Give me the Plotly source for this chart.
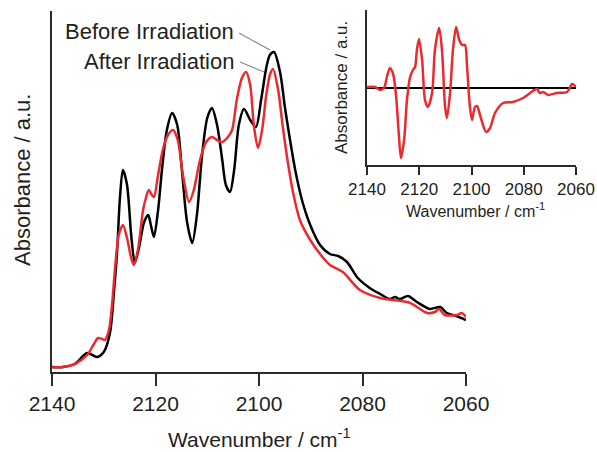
import plotly.graph_objects as go

# Main spectra (wavenumber / cm-1, absorbance a.u.)
wn_before = [2140.0, 2137.9, 2135.6, 2133.2, 2131.3, 2130.0, 2128.8, 2128.0, 2127.4, 2126.9,
             2126.3, 2125.5, 2124.7, 2124.0, 2123.2, 2122.2, 2121.4, 2120.9, 2120.3, 2119.5,
             2118.7, 2117.8, 2116.8, 2115.8, 2114.9, 2113.9, 2112.9, 2112.0, 2111.0, 2110.0,
             2109.1, 2108.1, 2107.1, 2106.4, 2105.6, 2104.8, 2103.9, 2102.9, 2101.7, 2100.6,
             2099.6, 2098.6, 2097.9, 2097.1, 2095.9, 2095.0, 2094.0, 2093.0, 2091.7, 2090.1,
             2088.2, 2086.3, 2084.7, 2083.0, 2080.9, 2078.6, 2076.6, 2074.7, 2073.7, 2072.8,
             2071.2, 2069.5, 2067.0, 2065.0, 2063.7, 2061.9, 2060.0]
abs_before = [0.05, 0.05, 0.08, 0.19, 0.15, 0.20, 0.39, 0.82, 1.22, 1.72,
              2.02, 1.87, 1.37, 1.09, 1.24, 1.50, 1.57, 1.47, 1.35, 1.62,
              2.05, 2.42, 2.59, 2.47, 2.02, 1.50, 1.29, 1.57, 2.17, 2.54,
              2.64, 2.47, 2.12, 1.87, 1.80, 2.02, 2.47, 2.63, 2.52, 2.45,
              2.72, 3.04, 3.17, 3.20, 2.99, 2.65, 2.32, 2.02, 1.72, 1.47,
              1.27, 1.18, 1.16, 1.10, 0.94, 0.84, 0.78, 0.73, 0.75, 0.73,
              0.76, 0.70, 0.63, 0.65, 0.59, 0.56, 0.52]

wn_after = [2140.0, 2137.9, 2135.6, 2133.2, 2131.9, 2131.1, 2130.3, 2129.8, 2129.0, 2128.4,
            2127.8, 2127.1, 2126.3, 2125.5, 2124.7, 2124.2, 2123.4, 2122.4, 2121.8, 2121.3,
            2120.7, 2120.3, 2119.5, 2118.6, 2117.6, 2116.6, 2115.7, 2114.7, 2113.5, 2112.6,
            2111.4, 2110.2, 2109.1, 2108.1, 2107.1, 2106.0, 2105.2, 2104.3, 2103.3, 2102.5,
            2101.7, 2101.0, 2100.2, 2099.4, 2098.6, 2097.9, 2097.3, 2096.3, 2095.4, 2094.4,
            2093.4, 2092.1, 2090.1, 2088.2, 2086.3, 2083.8, 2080.5, 2076.6, 2074.1, 2070.8,
            2067.5, 2066.0, 2065.2, 2064.1, 2061.7, 2060.8, 2060.0]
abs_after = [0.05, 0.05, 0.08, 0.17, 0.28, 0.34, 0.33, 0.32, 0.42, 0.67,
             1.05, 1.37, 1.47, 1.34, 1.14, 1.07, 1.22, 1.62, 1.75, 1.82,
             1.77, 1.75, 1.97, 2.22, 2.37, 2.42, 2.32, 1.97, 1.70, 1.82,
             2.12, 2.30, 2.35, 2.32, 2.30, 2.35, 2.42, 2.72, 2.94, 3.00,
             2.87, 2.47, 2.24, 2.42, 2.77, 2.97, 3.03, 2.82, 2.45, 2.09,
             1.79, 1.52, 1.32, 1.18, 1.07, 1.00, 0.82, 0.74, 0.72, 0.69,
             0.59, 0.60, 0.63, 0.57, 0.57, 0.59, 0.55]

# Inset difference spectrum
wn_diff = [2140.0, 2136.9, 2135.0, 2133.5, 2132.3, 2131.2, 2130.0, 2128.9, 2127.8, 2127.0,
           2125.8, 2124.7, 2123.5, 2122.4, 2121.6, 2120.9, 2120.1, 2118.9, 2117.8, 2116.7,
           2115.1, 2114.0, 2112.4, 2111.3, 2110.1, 2109.4, 2108.2, 2107.1, 2105.9, 2104.8,
           2103.6, 2102.5, 2101.7, 2100.6, 2099.8, 2098.7, 2097.9, 2096.4, 2094.4, 2092.9,
           2091.0, 2087.9, 2084.1, 2080.3, 2076.5, 2074.9, 2073.8, 2072.6, 2070.7, 2067.3,
           2063.4, 2061.5, 2060.0]
abs_diff = [1, 1, -2, 0, 12, 20, 14, -7, -47, -70,
            -52, -12, 11, 18, 21, 38, 49, 28, -12, -19,
            -5, 38, 60, 38, -19, -30, -5, 38, 61, 49,
            43, 43, 21, -19, -32, -19, -18, -30, -44, -40,
            -25, -15, -14, -10, -3, -1, -5, -4, -7, -5,
            -4, 4, 1]

tick_vals = [2140, 2120, 2100, 2080, 2060]
tick_text = ["2140", "2120", "2100", "2080", "2060"]

FONT = "Liberation Sans, Arial, Helvetica, sans-serif"
TXT = "#231f20"
RED = "#ec2a2e"
AX = "#2b2b2b"

fig = go.Figure()
fig.add_trace(go.Scatter(x=wn_before, y=abs_before, mode="lines",
                         line=dict(color="black", width=2.5, shape="spline", smoothing=0.8),
                         xaxis="x", yaxis="y", showlegend=False))
fig.add_trace(go.Scatter(x=wn_after, y=abs_after, mode="lines",
                         line=dict(color=RED, width=2.5, shape="spline", smoothing=0.8),
                         xaxis="x", yaxis="y", showlegend=False))
fig.add_trace(go.Scatter(x=wn_diff, y=abs_diff, mode="lines",
                         line=dict(color=RED, width=2.5, shape="spline", smoothing=0.8),
                         xaxis="x2", yaxis="y2", showlegend=False))

fig.update_layout(
    width=597, height=452,
    margin=dict(l=0, r=0, t=0, b=0, autoexpand=False),
    paper_bgcolor="white", plot_bgcolor="rgba(0,0,0,0)",
    font=dict(family=FONT, color=TXT),
    xaxis=dict(domain=[52/597, 466/597], range=[2140, 2060], autorange=False,
               showgrid=False, zeroline=False, showline=True, linecolor=AX, linewidth=2,
               ticks="outside", ticklen=12, tickwidth=2, tickcolor=AX,
               tickvals=tick_vals, ticktext=tick_text, automargin=False,
               tickfont=dict(size=21, family=FONT, color=TXT), anchor="y"),
    yaxis=dict(domain=[(452-372)/452, (452-11)/452], range=[0, 3.61], autorange=False,
               showgrid=False, zeroline=False, showline=True, linecolor=AX, linewidth=2,
               showticklabels=False, ticks="", anchor="x", automargin=False),
    xaxis2=dict(domain=[367/597, 576/597], range=[2140, 2060], autorange=False,
                showgrid=False, zeroline=False, showline=True, linecolor=AX, linewidth=2,
                ticks="outside", ticklen=8, tickwidth=2, tickcolor=AX,
                tickvals=tick_vals, ticktext=tick_text, automargin=False,
                tickfont=dict(size=17, family=FONT, color=TXT), anchor="y2"),
    yaxis2=dict(domain=[(452-165)/452, (452-10)/452], range=[-77, 78], autorange=False,
                showgrid=False, zeroline=True, zerolinecolor="black", zerolinewidth=2,
                showline=True, linecolor=AX, linewidth=2, automargin=False,
                showticklabels=False, ticks="", anchor="x2"),
    annotations=[
        dict(text="Wavenumber / cm<sup>-1</sup>", x=259/597, y=(452-438)/452,
             xref="paper", yref="paper", showarrow=False, xanchor="center", yanchor="middle",
             font=dict(size=21, family=FONT, color=TXT)),
        dict(text="Absorbance / a.u.", x=23/597, y=(452-180)/452, textangle=-90,
             xref="paper", yref="paper", showarrow=False, xanchor="center", yanchor="middle",
             font=dict(size=22, family=FONT, color=TXT)),
        dict(text="Wavenumber / cm<sup>-1</sup>", x=475/597, y=(452-210)/452,
             xref="paper", yref="paper", showarrow=False, xanchor="center", yanchor="middle",
             font=dict(size=16, family=FONT, color=TXT)),
        dict(text="Absorbance / a.u.", x=342/597, y=(452-88)/452, textangle=-90,
             xref="paper", yref="paper", showarrow=False, xanchor="center", yanchor="middle",
             font=dict(size=17, family=FONT, color=TXT)),
        dict(text="Before Irradiation", x=236/597, y=(452-31)/452,
             xref="paper", yref="paper", showarrow=False, xanchor="right", yanchor="middle",
             font=dict(size=22, family=FONT, color=TXT)),
        dict(text="After Irradiation", x=236/597, y=(452-62)/452,
             xref="paper", yref="paper", showarrow=False, xanchor="right", yanchor="middle",
             font=dict(size=22, family=FONT, color=TXT)),
    ],
    shapes=[
        dict(type="line", xref="paper", yref="paper",
             x0=239/597, y0=(452-33)/452, x1=270/597, y1=(452-50)/452,
             line=dict(color="#8a8a8a", width=1.2)),
        dict(type="line", xref="paper", yref="paper",
             x0=240/597, y0=(452-62)/452, x1=264/597, y1=(452-72)/452,
             line=dict(color="#8a8a8a", width=1.2)),
    ],
)

fig.write_html("out.html")
